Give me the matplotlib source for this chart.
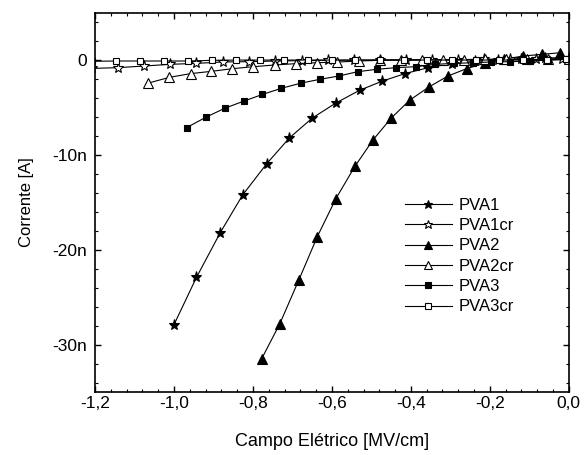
#!/usr/bin/env python3
from matplotlib import pyplot as plt
from matplotlib.ticker import MultipleLocator, FuncFormatter
import numpy as np

plt.rcParams['font.family'] = ['Liberation Sans', 'DejaVu Sans']

# data (x in MV/cm, y in nA)
x_pva1 = [-1.0, -0.943, -0.883, -0.826, -0.765, -0.708, -0.650, -0.590, -0.530,
          -0.473, -0.415, -0.356, -0.297, -0.238, -0.179, -0.120, -0.060, 0.0]
y_pva1 = [-27.9, -22.9, -18.2, -14.2, -10.9, -8.2, -6.1, -4.5, -3.16,
          -2.2, -1.4, -0.77, -0.35, -0.1, 0.0, 0.15, 0.25, 0.3]

x_pva1cr = [-1.207, -1.141, -1.076, -1.010, -0.943, -0.877, -0.810, -0.743, -0.677,
            -0.611, -0.545, -0.479, -0.413, -0.347, -0.281, -0.215, -0.149, -0.083, -0.017]
y_pva1cr = [-0.85, -0.77, -0.6, -0.42, -0.32, -0.17, -0.14, -0.07, -0.03,
            0.0, 0.02, 0.04, 0.05, 0.06, 0.08, 0.1, 0.12, 0.15, 0.18]

x_pva2 = [-0.778, -0.732, -0.684, -0.637, -0.590, -0.542, -0.496, -0.450, -0.403,
          -0.354, -0.306, -0.259, -0.213, -0.165, -0.117, -0.069, -0.023]
y_pva2 = [-31.5, -27.8, -23.2, -18.6, -14.6, -11.2, -8.4, -6.1, -4.2,
          -2.8, -1.65, -0.88, -0.3, 0.1, 0.45, 0.63, 0.8]

x_pva2cr = [-1.065, -1.012, -0.958, -0.905, -0.852, -0.799, -0.745, -0.692, -0.639,
            -0.586, -0.532, -0.479, -0.426, -0.373, -0.319, -0.266, -0.213, -0.160,
            -0.106, -0.053, 0.0]
y_pva2cr = [-2.4, -1.8, -1.4, -1.16, -0.88, -0.67, -0.49, -0.35, -0.25,
            -0.18, -0.07, 0.0, 0.03, 0.05, 0.07, 0.08, 0.1, 0.1,
            0.1, 0.1, 0.1]

x_pva3 = [-0.968, -0.919, -0.871, -0.823, -0.776, -0.728, -0.678, -0.630, -0.582,
          -0.535, -0.487, -0.438, -0.387, -0.339, -0.290, -0.242, -0.196, -0.148,
          -0.099, -0.052, -0.008]
y_pva3 = [-7.1, -6.0, -5.05, -4.3, -3.6, -2.95, -2.4, -2.0, -1.65,
          -1.2, -0.95, -0.77, -0.67, -0.42, -0.32, -0.25, -0.17, -0.14,
          -0.07, 0.03, 0.1]

x_pva3cr = [-1.208, -1.147, -1.086, -1.025, -0.965, -0.904, -0.843, -0.783, -0.722,
            -0.661, -0.601, -0.541, -0.479, -0.418, -0.359, -0.297, -0.236, -0.177,
            -0.116, -0.056, -0.006]
y_pva3cr = [-0.1, -0.07, -0.07, -0.07, -0.07, 0.0, 0.03, 0.03, 0.03,
            0.03, 0.03, 0.03, 0.03, 0.03, 0.03, 0.03, 0.03, 0.03,
            0.03, 0.03, 0.1]

series = [
    ('PVA1', x_pva1, y_pva1, '*', 'black', 8),
    ('PVA1cr', x_pva1cr, y_pva1cr, '*', 'white', 8),
    ('PVA2', x_pva2, y_pva2, '^', 'black', 6.5),
    ('PVA2cr', x_pva2cr, y_pva2cr, '^', 'white', 6.5),
    ('PVA3', x_pva3, y_pva3, 's', 'black', 5),
    ('PVA3cr', x_pva3cr, y_pva3cr, 's', 'white', 5),
]

fig = plt.figure(figsize=(5.85, 4.55), dpi=100)
ax = fig.add_axes([0.1624, 0.1385, 0.810, 0.833])

for label, xs, ys, marker, face, ms in series:
    ax.plot(np.array(xs), np.array(ys) * 1e-9, color='black', lw=0.8,
            marker=marker, markerfacecolor=face, markeredgecolor='black',
            markeredgewidth=0.8, markersize=ms, label=label)

ax.set_xlim(-1.2, 0.0)
ax.set_ylim(-35e-9, 5e-9)

ax.xaxis.set_major_locator(MultipleLocator(0.2))
ax.xaxis.set_minor_locator(MultipleLocator(0.04))
ax.yaxis.set_major_locator(MultipleLocator(10e-9))
ax.yaxis.set_minor_locator(MultipleLocator(2e-9))

ax.xaxis.set_major_formatter(FuncFormatter(lambda v, p: ('%.1f' % v).replace('.', ',').replace('-0,0', '0,0')))
ax.yaxis.set_major_formatter(FuncFormatter(lambda v, p: '0' if abs(v) < 1e-12 else '%dn' % round(v * 1e9)))

ax.tick_params(which='both', direction='in', top=True, right=True, labelsize=12.5)
ax.tick_params(which='major', length=4, width=1)
ax.tick_params(which='minor', length=2, width=0.8)
ax.tick_params(axis='x', pad=3)
ax.tick_params(axis='y', pad=6)
for s in ax.spines.values():
    s.set_linewidth(1.2)

ax.set_xlabel('Campo Elétrico [MV/cm]', fontsize=13, labelpad=16)
ax.set_ylabel('Corrente [A]', fontsize=12, labelpad=13)

ax.legend(loc='upper left', bbox_to_anchor=(0.64, 0.53), frameon=False,
          fontsize=12, handlelength=2.8, handletextpad=0.4, labelspacing=0.32,
          borderaxespad=0, markerscale=0.8)

plt.savefig('out.png', dpi=100)
